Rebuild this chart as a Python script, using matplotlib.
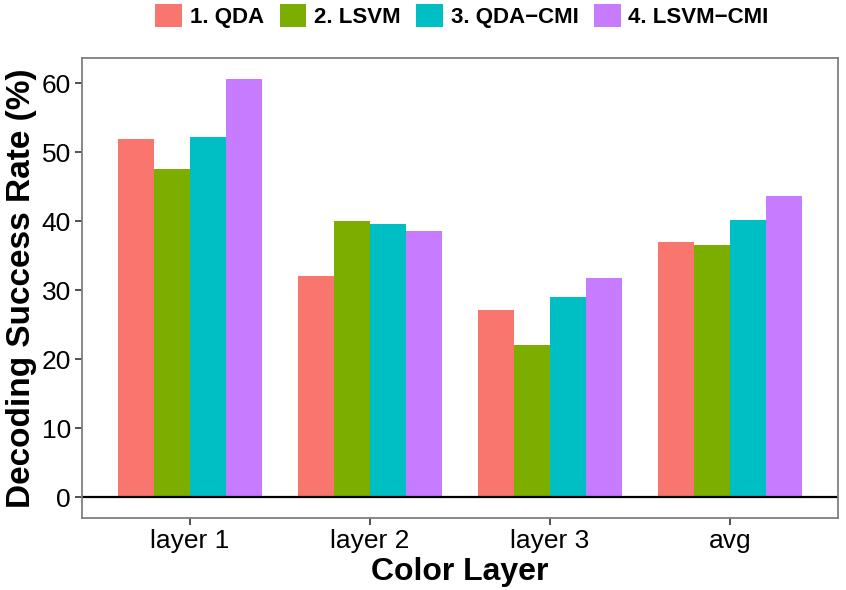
import numpy as np
import matplotlib
matplotlib.use('Agg')
import matplotlib.pyplot as plt
from matplotlib.patches import Patch

plt.rcParams['font.family'] = ['Liberation Sans', 'DejaVu Sans']

# datos
capas = ['layer 1', 'layer 2', 'layer 3', 'avg']
metodos = ['1. QDA', '2. LSVM', '3. QDA\u2212CMI', '4. LSVM\u2212CMI']
qda = [51.9, 32.0, 27.1, 37.0]
lsvm = [47.5, 40.0, 22.0, 36.5]
qda_cmi = [52.2, 39.6, 29.0, 40.2]
lsvm_cmi = [60.6, 38.6, 31.8, 43.7]
colores = ['#F8766D', '#7CAE00', '#00BFC4', '#C77CFF']

series = [qda, lsvm, qda_cmi, lsvm_cmi]

fig = plt.figure(figsize=(8.46, 5.9), dpi=100)
ax = fig.add_axes([82/846, 1-518/590, (838-82)/846, (518-58)/590])

x = np.arange(1, len(capas)+1)
total = 0.8
ancho = total/len(series)
for i, (vals, col) in enumerate(zip(series, colores)):
    ax.bar(x - total/2 + ancho*(i+0.5), vals, width=ancho, color=col, linewidth=0)

ax.axhline(0, color='black', lw=1.6)

ymax = max(max(s) for s in series)
ax.set_ylim(-0.05*ymax, ymax*1.05)
ax.set_xlim(0.4, 4.6)
ax.set_xticks(x)
ax.set_xticklabels(capas)
ax.set_yticks([0, 10, 20, 30, 40, 50, 60])
ax.tick_params(axis='both', labelsize=19, colors='black', length=5, width=1.2,
               color='#333333', pad=3)
for s in ax.spines.values():
    s.set_color('#7f7f7f')
    s.set_linewidth(1.3)

ax.set_xlabel('Color Layer', fontsize=23, fontweight='bold', labelpad=3)
ax.set_ylabel('Decoding Success Rate (%)', fontsize=24, fontweight='bold', labelpad=3)

handles = [Patch(facecolor=c, edgecolor='none') for c in colores]
fig.legend(handles, metodos, loc='center', bbox_to_anchor=(462/846, 1-16/590),
           ncol=4, frameon=False, prop={'size': 16, 'weight': 'bold'},
           handlelength=1.2, handleheight=1.2, handletextpad=0.35,
           columnspacing=0.7, borderpad=0)

plt.savefig('out.png', dpi=100)
